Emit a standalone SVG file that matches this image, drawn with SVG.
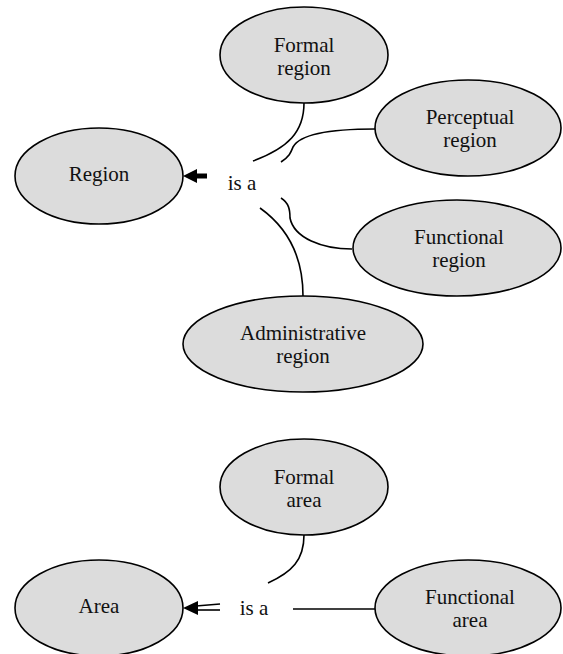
<svg xmlns="http://www.w3.org/2000/svg" width="563" height="654" viewBox="0 0 563 654">
<style>
.node ellipse{fill:#dcdcdc;stroke:#000;stroke-width:1.6}
text{font-family:"Liberation Serif","Times New Roman",serif;font-size:21px;fill:#111;text-anchor:middle}
.conn path,.conn line{fill:none;stroke:#000;stroke-width:1.6}
</style>
<rect width="563" height="654" fill="#fff"/>
<g id="connectors" class="conn">
<path d="M304,103 C304,132 288,148 253,161"/>
<path d="M375,129 C330,129 300,134 293,147 C291,152 290,156 281,162"/>
<path d="M281,198 C289,203 290,210 290,218 C294,238 322,249 352,249"/>
<path d="M260,208 C288,228 303,258 303,296"/>
<polygon points="183,176 197,169 197,183" fill="#000" stroke="none"/>
<line x1="196" y1="176" x2="207" y2="176" style="stroke-width:5"/>
<path d="M304,535 C304,560 292,572 268,583"/>
<line x1="293" y1="609" x2="375" y2="609"/>
<polygon points="183,608 198,601 198,615" fill="#000" stroke="none"/>
<line x1="196" y1="606" x2="220" y2="604"/>
<line x1="196" y1="610" x2="220" y2="610"/>
</g>
<text x="242" y="190">is a</text>
<text x="254" y="615">is a</text>
<g id="formal-region" class="node"><ellipse cx="304" cy="55" rx="84" ry="48"/><text x="304" y="52">Formal</text><text x="304" y="75">region</text></g>
<g id="perceptual-region" class="node"><ellipse cx="468" cy="128" rx="93" ry="48"/><text x="470" y="124">Perceptual</text><text x="470" y="147">region</text></g>
<g id="region" class="node"><ellipse cx="99" cy="176" rx="84" ry="48"/><text x="99" y="181">Region</text></g>
<g id="functional-region" class="node"><ellipse cx="457" cy="248" rx="104" ry="48"/><text x="459" y="244">Functional</text><text x="459" y="267">region</text></g>
<g id="administrative-region" class="node"><ellipse cx="303" cy="344" rx="120" ry="48"/><text x="303" y="340">Administrative</text><text x="303" y="363">region</text></g>
<g id="formal-area" class="node"><ellipse cx="304" cy="487" rx="84" ry="48"/><text x="304" y="484">Formal</text><text x="304" y="507">area</text></g>
<g id="area" class="node"><ellipse cx="99" cy="608" rx="84" ry="48"/><text x="99" y="613">Area</text></g>
<g id="functional-area" class="node"><ellipse cx="468" cy="608" rx="93" ry="48"/><text x="470" y="604">Functional</text><text x="470" y="627">area</text></g>
</svg>
